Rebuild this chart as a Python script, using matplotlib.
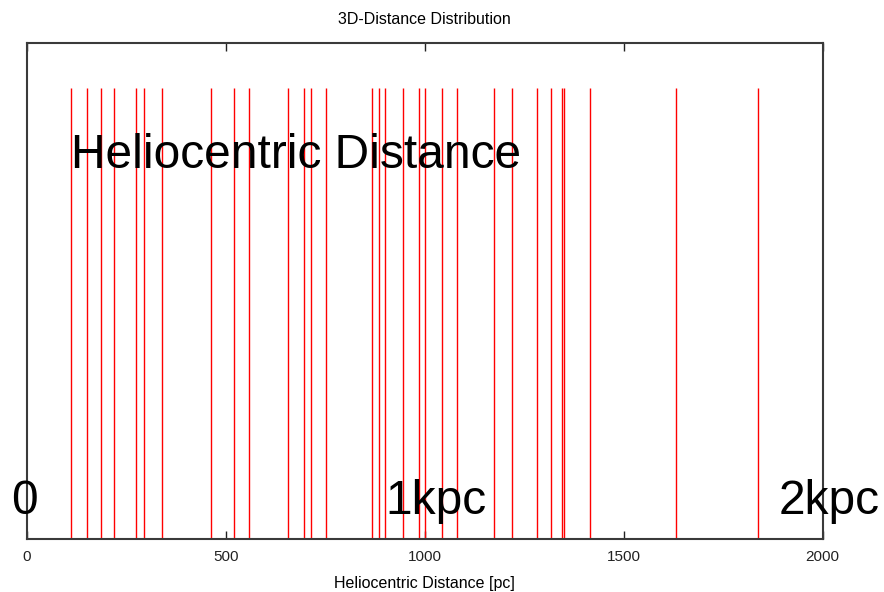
import matplotlib
matplotlib.use("Agg")
import matplotlib.pyplot as plt

plt.rcParams['font.family'] = ['Liberation Sans', 'DejaVu Sans']

# Heliocentric distances of the sample [pc]
distances_pc = [111, 152, 187, 220, 275, 295, 339, 464, 522, 559,
                657, 697, 714, 752, 867, 884, 901, 945, 985, 1002,
                1043, 1080, 1174, 1219, 1283, 1317, 1344, 1351, 1415,
                1631, 1838]

x_ticks = [0, 500, 1000, 1500, 2000]
scale_labels = ["0", "1kpc", "2kpc"]
scale_label_x = [-38, 900, 1890]

fig = plt.figure(figsize=(8.84, 5.92), dpi=100)
ax = fig.add_axes([26.7 / 884, 1 - 538.7 / 592, 796 / 884, (538.7 - 43.3) / 592])

ax.vlines(distances_pc, 0, 1, colors='red', linewidth=1.0)

ax.set_xlim(0, 2000)
ax.set_ylim(0, 1.1)
ax.set_xticks(x_ticks)
ax.set_yticks([])
ax.tick_params(axis='x', direction='in', length=6, width=1, top=True,
               labelsize=11, pad=8, colors='#222222')
for s in ax.spines.values():
    s.set_color('#3a3a3a')
    s.set_linewidth(1.5)

ax.set_title("3D-Distance Distribution", fontsize=11.5, pad=14)
ax.set_xlabel("Heliocentric Distance [pc]", fontsize=11.5, labelpad=9)

ax.text(111, 0.85, "Heliocentric Distance", fontsize=34.5, ha='left',
        va='center', color='black', zorder=5)
for lbl, xv in zip(scale_labels, scale_label_x):
    ax.text(xv, 0.082, lbl, fontsize=34.5, ha='left', va='center',
            color='black', clip_on=False, zorder=5)

fig.savefig("out.png", dpi=100)
